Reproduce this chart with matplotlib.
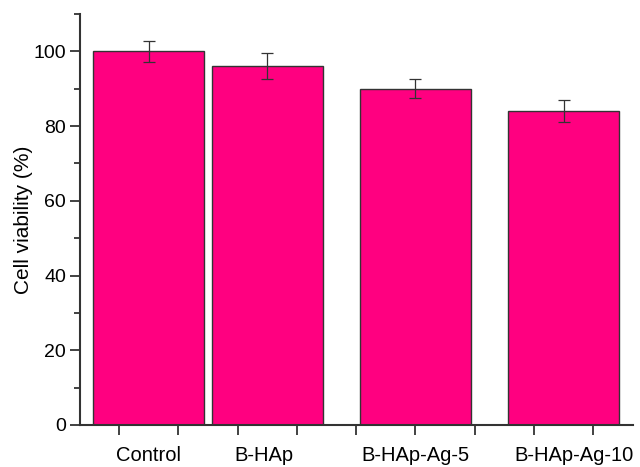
import numpy as np
import matplotlib.pyplot as plt
from matplotlib.ticker import MultipleLocator

plt.rcParams['font.family'] = ['Liberation Sans', 'DejaVu Sans']

groups = ['Control', 'B-HAp', 'B-HAp-Ag-5', 'B-HAp-Ag-10']
viability = [100, 96, 90, 84]
errors = [2.9, 3.5, 2.5, 3.0]
positions = [1.5, 3.5, 6.0, 8.5]
label_pos = [1.5, 3.45, 6.0, 8.67]

fig = plt.figure(figsize=(6.4, 4.67), dpi=100)
ax = fig.add_axes([0.125, 0.09, 0.864, 0.88])

ax.bar(positions, viability, width=1.87, color='#ff0080', edgecolor='#333333', linewidth=1.0)
ax.errorbar(positions, viability, yerr=errors, fmt='none', ecolor='#333333',
            elinewidth=0.9, capsize=4, capthick=0.9)

ax.set_xlim(0.34, 9.67)
ax.set_ylim(0, 110)
ax.xaxis.set_major_locator(MultipleLocator(1))
ax.yaxis.set_major_locator(MultipleLocator(20))
ax.yaxis.set_minor_locator(MultipleLocator(10))
ax.set_xticklabels([])

for sp in ['top', 'right']:
    ax.spines[sp].set_visible(False)
for sp in ['left', 'bottom']:
    ax.spines[sp].set_linewidth(1.5)
    ax.spines[sp].set_color('#333333')

ax.tick_params(axis='y', which='major', length=7, width=1.3, labelsize=14, pad=3, direction='out', color='#333333')
ax.tick_params(axis='y', which='minor', length=4.5, width=1.3, direction='out', color='#333333')
ax.tick_params(axis='x', which='major', length=7, width=1.3, direction='out', color='#333333')

for x, name in zip(label_pos, groups):
    ax.text(x, -0.075, name, transform=ax.get_xaxis_transform(), ha='center', va='center', fontsize=14.5)

ax.set_ylabel('Cell viability (%)', fontsize=15, labelpad=0)

fig.savefig('out.png', dpi=100)
